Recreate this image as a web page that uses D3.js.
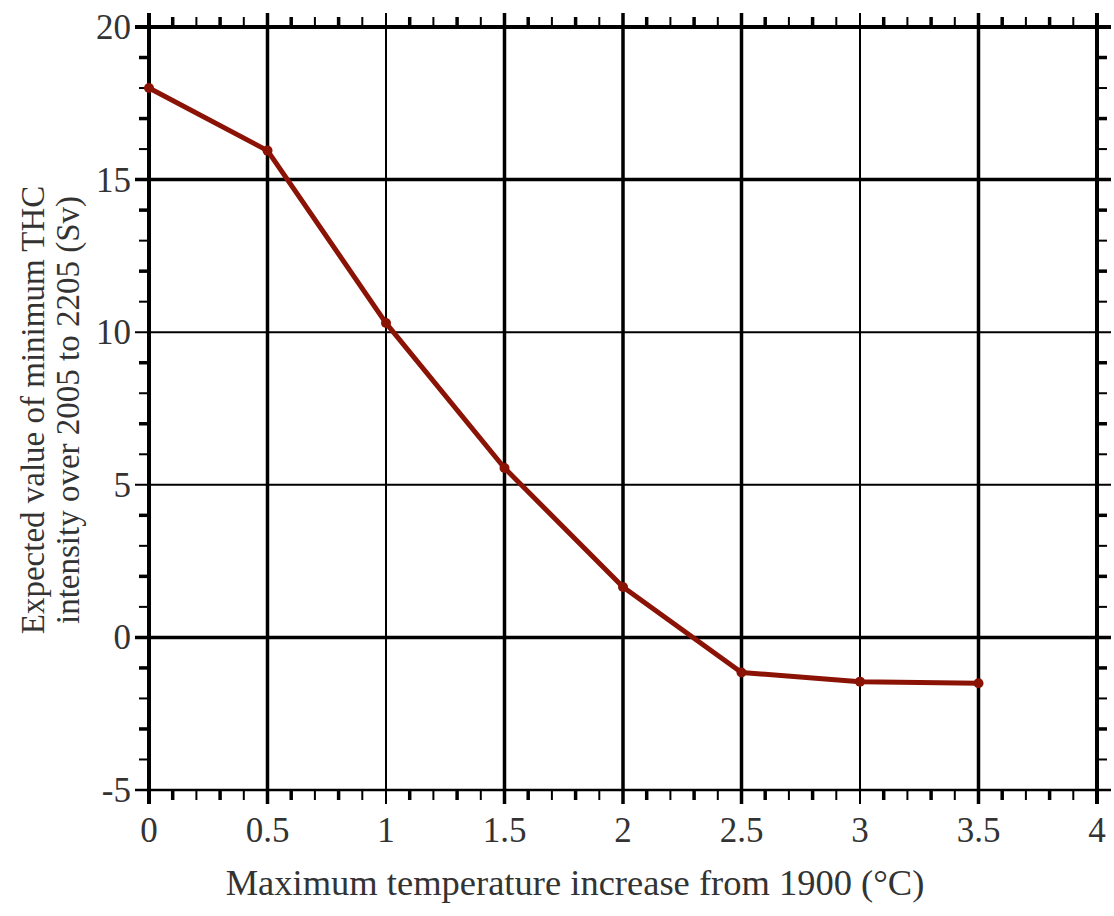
<!DOCTYPE html>
<html>
<head>
<meta charset="utf-8">
<script src="https://cdn.jsdelivr.net/npm/d3@7"></script>
<style>
  body { margin: 0; background: #fff; }
  svg text { font-family: 'Liberation Serif', 'DejaVu Serif', serif; fill: #333; }
</style>
</head>
<body>
<div id="chart"></div>
<script>
// data
var tempRise = [0, 0.5, 1, 1.5, 2, 2.5, 3, 3.5];
var minTHC = [18.0, 15.95, 10.3, 5.55, 1.65, -1.15, -1.45, -1.5];
var xTicks = [0, 0.5, 1, 1.5, 2, 2.5, 3, 3.5, 4];
var yTicks = [-5, 0, 5, 10, 15, 20];
var xTitle = "Maximum temperature increase from 1900 (\u00B0C)";
var yTitle = ["Expected value of minimum THC", "intensity over 2005 to 2205 (Sv)"];

var width = 1114, height = 916;
var margin = {top: 27, right: 17, bottom: 126, left: 149};
var plotW = width - margin.left - margin.right,
    plotH = height - margin.top - margin.bottom;

var svg = d3.select("#chart").append("svg")
    .attr("width", width)
    .attr("height", height);

var g = svg.append("g")
    .attr("transform", "translate(" + margin.left + "," + margin.top + ")");

var x = d3.scaleLinear().domain([0, 4]).range([0, plotW]);
var y = d3.scaleLinear().domain([-5, 20]).range([plotH, 0]);

// uneven line weights like the scanned original
var xThick = {0: 4, 0.5: 3.5, 1: 2, 1.5: 3.5, 2: 3.5, 2.5: 3.5, 3: 2, 3.5: 3.5, 4: 4};
var yThick = {"-5": 2.5, 0: 3.5, 5: 2, 10: 2, 15: 3.5, 20: 4};

// minor ticks, outside on all four sides
var xMinor = d3.range(0, 41).map(function (d) { return d / 10; })
    .filter(function (d) { return Math.round(d * 10) % 5 !== 0; });
var yMinor = d3.range(-5, 21).filter(function (d) { return d % 5 !== 0; });

g.selectAll(".xminor-b").data(xMinor).enter().append("line")
    .attr("x1", function (d) { return x(d); }).attr("x2", function (d) { return x(d); })
    .attr("y1", plotH).attr("y2", plotH + 10)
    .attr("stroke", "#000")
    .attr("stroke-width", function (d, i) { return i % 2 ? 2 : 3.5; });
g.selectAll(".xminor-t").data(xMinor).enter().append("line")
    .attr("x1", function (d) { return x(d); }).attr("x2", function (d) { return x(d); })
    .attr("y1", 0).attr("y2", -10)
    .attr("stroke", "#000")
    .attr("stroke-width", function (d, i) { return i % 2 ? 2 : 3.5; });
g.selectAll(".yminor-l").data(yMinor).enter().append("line")
    .attr("x1", 0).attr("x2", -10)
    .attr("y1", function (d) { return y(d); }).attr("y2", function (d) { return y(d); })
    .attr("stroke", "#000")
    .attr("stroke-width", function (d, i) { return i % 2 ? 3.5 : 2; });
g.selectAll(".yminor-r").data(yMinor).enter().append("line")
    .attr("x1", plotW).attr("x2", plotW + 10)
    .attr("y1", function (d) { return y(d); }).attr("y2", function (d) { return y(d); })
    .attr("stroke", "#000")
    .attr("stroke-width", function (d, i) { return i % 2 ? 3.5 : 2; });

// major grid lines, poking out past the frame as major ticks
g.selectAll(".xgrid").data(xTicks).enter().append("line")
    .attr("x1", function (d) { return x(d); }).attr("x2", function (d) { return x(d); })
    .attr("y1", -14).attr("y2", plotH + 14)
    .attr("stroke", "#000")
    .attr("stroke-width", function (d) { return xThick[d]; });
g.selectAll(".ygrid").data(yTicks).enter().append("line")
    .attr("x1", -14).attr("x2", plotW + 14)
    .attr("y1", function (d) { return y(d); }).attr("y2", function (d) { return y(d); })
    .attr("stroke", "#000")
    .attr("stroke-width", function (d) { return yThick[d]; });

// tick labels
g.selectAll(".xlab").data(xTicks).enter().append("text")
    .attr("x", function (d) { return x(d); })
    .attr("y", plotH + 52)
    .attr("text-anchor", "middle")
    .attr("font-size", 35)
    .text(function (d) { return d; });
g.selectAll(".ylab").data(yTicks).enter().append("text")
    .attr("x", -18)
    .attr("y", function (d) { return y(d); })
    .attr("dy", "0.34em")
    .attr("text-anchor", "end")
    .attr("font-size", 35)
    .text(function (d) { return d; });

// axis titles
svg.append("text")
    .attr("x", 575)
    .attr("y", 895)
    .attr("text-anchor", "middle")
    .attr("font-size", 36.5)
    .text(xTitle);
svg.selectAll(".ytitle").data(yTitle).enter().append("text")
    .attr("transform", function (d, i) {
        return "translate(" + (44 + i * 35) + ",410) rotate(-90)";
    })
    .attr("text-anchor", "middle")
    .attr("font-size", 33)
    .text(function (d) { return d; });

// the series
var pts = tempRise.map(function (d, i) { return {x: d, y: minTHC[i]}; });
var line = d3.line()
    .x(function (d) { return x(d.x); })
    .y(function (d) { return y(d.y); });

g.append("path")
    .datum(pts)
    .attr("d", line)
    .attr("fill", "none")
    .attr("stroke", "#8b1305")
    .attr("stroke-width", 5)
    .attr("stroke-linejoin", "round");

g.selectAll(".pt").data(pts).enter().append("circle")
    .attr("cx", function (d) { return x(d.x); })
    .attr("cy", function (d) { return y(d.y); })
    .attr("r", 5)
    .attr("fill", "#8b1305");
</script>
</body>
</html>
